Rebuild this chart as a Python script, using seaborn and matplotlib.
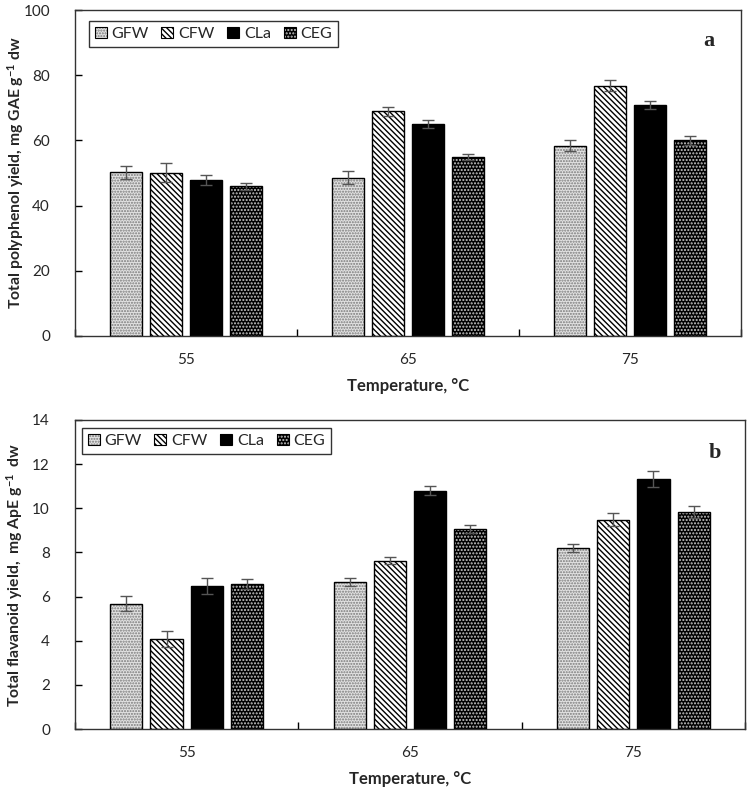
import pandas as pd
import matplotlib
matplotlib.use('Agg')
import matplotlib.pyplot as plt
import seaborn as sns
from matplotlib.patches import Patch, Rectangle
from matplotlib.legend_handler import HandlerTuple

temps = ['55', '65', '75']
extracts = ['GFW', 'CFW', 'CLa', 'CEG']

# (a) total polyphenol yield, mg GAE g-1 dw, one list per extract (55, 65, 75 C)
tpc_gfw = [50.2, 48.6, 58.4]
tpc_cfw = [50.1, 68.9, 76.8]
tpc_cla = [47.8, 65.1, 70.8]
tpc_ceg = [45.9, 54.9, 60.0]
tpc_err_gfw = [2.0, 2.0, 1.8]
tpc_err_cfw = [2.9, 1.3, 1.7]
tpc_err_cla = [1.6, 1.2, 1.3]
tpc_err_ceg = [1.0, 1.0, 1.5]

# (b) total flavanoid yield, mg ApE g-1 dw
tfc_gfw = [5.68, 6.65, 8.20]
tfc_cfw = [4.07, 7.63, 9.48]
tfc_cla = [6.48, 10.80, 11.32]
tfc_ceg = [6.58, 9.07, 9.82]
tfc_err_gfw = [0.35, 0.18, 0.17]
tfc_err_cfw = [0.35, 0.15, 0.30]
tfc_err_cla = [0.35, 0.22, 0.35]
tfc_err_ceg = [0.23, 0.17, 0.28]


def long_table(vals, errs):
    rows = []
    for name, v, e in zip(extracts, vals, errs):
        for t, vi, ei in zip(temps, v, e):
            rows.append({'temp': t, 'extract': name, 'value': vi, 'err': ei})
    return pd.DataFrame(rows)


df_a = long_table([tpc_gfw, tpc_cfw, tpc_cla, tpc_ceg],
                  [tpc_err_gfw, tpc_err_cfw, tpc_err_cla, tpc_err_ceg])
df_b = long_table([tfc_gfw, tfc_cfw, tfc_cla, tfc_ceg],
                  [tfc_err_gfw, tfc_err_cfw, tfc_err_cla, tfc_err_ceg])

# face colour, hatch, hatch colour
styles = {
    'GFW': ('#e2e2e2', '......', '#7a7a7a'),
    'CFW': ('white', '\\\\\\\\\\\\', 'black'),
    'CLa': ('black', '', 'black'),
    'CEG': ('black', '.....', '#c8c8c8'),
}

sns.set_style('white')
plt.rcParams['font.family'] = ['Lato', 'DejaVu Sans']
plt.rcParams['mathtext.fontset'] = 'custom'
plt.rcParams['mathtext.rm'] = 'Lato'
plt.rcParams['mathtext.bf'] = 'Lato:bold'
plt.rcParams['hatch.linewidth'] = 1.0

fig = plt.figure(figsize=(7.49, 7.95), dpi=100)
ax_a = fig.add_axes([0.1001, 0.5774, 0.8892, 0.4100])
ax_b = fig.add_axes([0.1001, 0.0830, 0.8946, 0.3887])


def draw_panel(ax, df, ymax, ystep, ylabel, letter, leg_xy, letter_xy):
    sns.barplot(data=df, x='temp', y='value', hue='extract', order=temps,
                hue_order=extracts, width=0.72, gap=0.2, ax=ax,
                legend=False, errorbar=None, saturation=1)
    for name, cont in zip(extracts, ax.containers):
        face, hatch, hcol = styles[name]
        sub = df[df['extract'] == name].set_index('temp').loc[temps]
        xs = []
        for p in cont.patches:
            p.set_facecolor(face)
            p.set_edgecolor(hcol)
            p.set_hatch(hatch)
            p.set_linewidth(0)
            ax.add_patch(Rectangle(p.get_xy(), p.get_width(), p.get_height(),
                                   fill=False, edgecolor='black', lw=1.0, zorder=3))
            xs.append(p.get_x() + p.get_width() / 2)
        ax.errorbar(xs, sub['value'], yerr=sub['err'], fmt='none',
                    ecolor='#555555', elinewidth=1, capsize=4, capthick=1, zorder=4)

    ax.set_xlim(-0.5, 2.5)
    ax.set_ylim(0, ymax)
    ax.set_yticks(range(0, ymax + 1, ystep))
    ax.set_xticks([-0.5, 0.5, 1.5, 2.5], minor=True)
    ax.tick_params(axis='x', which='major', length=0, pad=12, labelsize=11)
    ax.tick_params(axis='x', which='minor', direction='in', length=5,
                   width=1, color='black', bottom=True)
    ax.tick_params(axis='y', direction='in', length=5, width=1, color='black',
                   left=True, pad=18, labelsize=11)
    for s in ax.spines.values():
        s.set_visible(True)
        s.set_color('#333333')
        s.set_linewidth(1.0)
    ax.set_xlabel('Temperature, °C', fontsize=12, fontweight='bold', labelpad=8)
    ax.set_ylabel(ylabel, fontsize=11.3, fontweight='bold')
    ax.yaxis.set_label_coords(-0.074, 0.5)

    handles = []
    for name in extracts:
        face, hatch, hcol = styles[name]
        handles.append((Patch(facecolor=face, edgecolor=hcol, hatch=hatch, lw=0),
                        Patch(fill=False, edgecolor='black', lw=0.8)))
    ax.legend(handles, extracts,
              handler_map={tuple: HandlerTuple(ndivide=1, pad=0)},
              loc='upper left', bbox_to_anchor=leg_xy, borderaxespad=0, ncol=4,
              fontsize=11.5, handlelength=0.75, handleheight=0.75,
              handletextpad=0.3, columnspacing=0.8, fancybox=False,
              framealpha=1, edgecolor='#333333', borderpad=0.35)
    ax.text(letter_xy[0], letter_xy[1], letter, transform=ax.transAxes,
            family='Liberation Serif', fontweight='bold', fontsize=16,
            ha='center', va='center')


draw_panel(ax_a, df_a, 100, 20,
           r'Total polyphenol yield, mg GAE g$\mathbf{^{-1}}$ dw', 'a',
           (0.021, 0.966), (0.951, 0.905))
draw_panel(ax_b, df_b, 14, 2,
           r'Total flavanoid yield,  mg ApE g$\mathbf{^{-1}}$  dw', 'b',
           (0.0104, 0.974), (0.955, 0.893))

fig.savefig('out.png', dpi=100)
